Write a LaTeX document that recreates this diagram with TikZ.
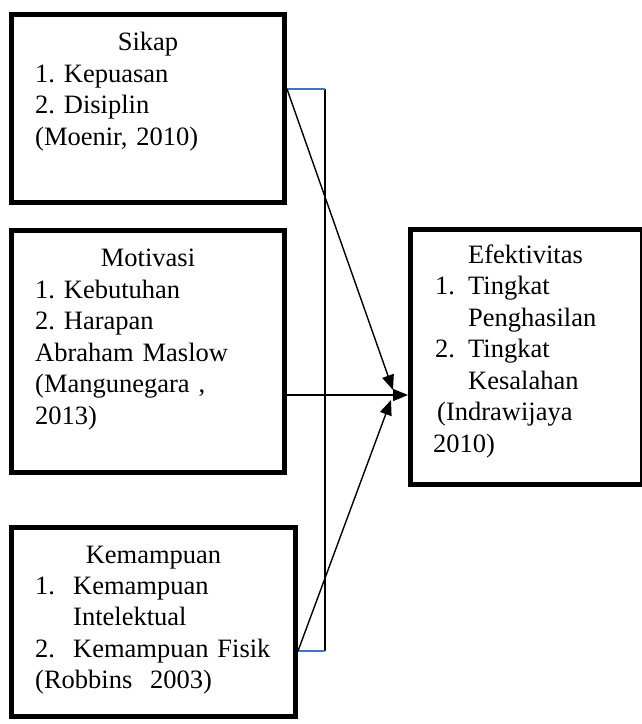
\documentclass[tikz,border=0pt]{standalone}
\usepackage{fontspec}
\setmainfont{Liberation Serif}
\usetikzlibrary{arrows.meta}

\definecolor{linkblue}{RGB}{68,114,196}

\tikzstyle{box}=[draw,black,line width=5.5pt,rectangle,inner sep=0pt]
\tikzstyle{title}=[anchor=base,inner sep=0pt]
\tikzstyle{body}=[anchor=base west,inner sep=0pt,align=left,text width=250pt]
\tikzstyle{link}=[line width=1.4pt,-{Triangle[length=15pt,width=12pt]}]
\tikzstyle{bracket}=[line width=2pt,linkblue]

\begin{document}
\frenchspacing
\begin{tikzpicture}[x=1pt,y=-1pt,font=\fontsize{26.5}{31.5}\selectfont]
    \useasboundingbox (0,0) rectangle (641,724);

    \node (sikap)[box,minimum width=273pt,minimum height=188pt] at (148,108.5) {};
    \node (motivasi)[box,minimum width=273pt,minimum height=242pt] at (148,351.5) {};
    \node (kemampuan)[box,minimum width=284pt,minimum height=189pt] at (153.5,622) {};
    \node (efektivitas)[box,minimum width=232pt,minimum height=255pt] at (526.5,357) {};

    \node (t1)[title] at (148,50) {Sikap};
    \node (b1)[body] at (35,82) {1. Kepuasan\\2. Disiplin\\(Moenir, 2010)};

    \node (t2)[title] at (148,266) {Motivasi};
    \node (b2)[body] at (35,298) {1. Kebutuhan\\2. Harapan\\Abraham Maslow\\(Mangunegara ,\\2013)};

    \node (t3)[title] at (153.5,563) {Kemampuan};
    \node (b3)[body] at (35,594) {\makebox[38pt][l]{1.}Kemampuan\\\hspace*{38pt}Intelektual\\
        \makebox[38pt][l]{2.}Kemampuan Fisik\\(Robbins\ \ 2003)};

    \node (t4)[title] at (525.5,263) {Efektivitas};
    \node (b4)[body] at (433,294.5) {\makebox[35pt][l]{\hspace*{2pt}1.}Tingkat\\\hspace*{35pt}Penghasilan\\
        \makebox[35pt][l]{\hspace*{2pt}2.}Tingkat\\\hspace*{35pt}Kesalahan\\\hspace*{4pt}(Indrawijaya\\2010)};

    \coordinate (top) at (287,89);
    \coordinate (topr) at (325,89);
    \coordinate (bot) at (298,651);
    \coordinate (botr) at (325,651);
    \coordinate (hit1) at (393,390);
    \coordinate (hit2) at (408,395);
    \coordinate (hit3) at (391,400);

    \draw[line width=1.6pt] (topr) -- (botr);
    \draw[bracket] (top) -- (topr);
    \draw[bracket] (bot) -- (botr);

    \draw[link] (top) -- (hit1);
    \draw[link] (motivasi.east |- hit2) -- (hit2);
    \draw[link] (bot) -- (hit3);
\end{tikzpicture}
\end{document}
